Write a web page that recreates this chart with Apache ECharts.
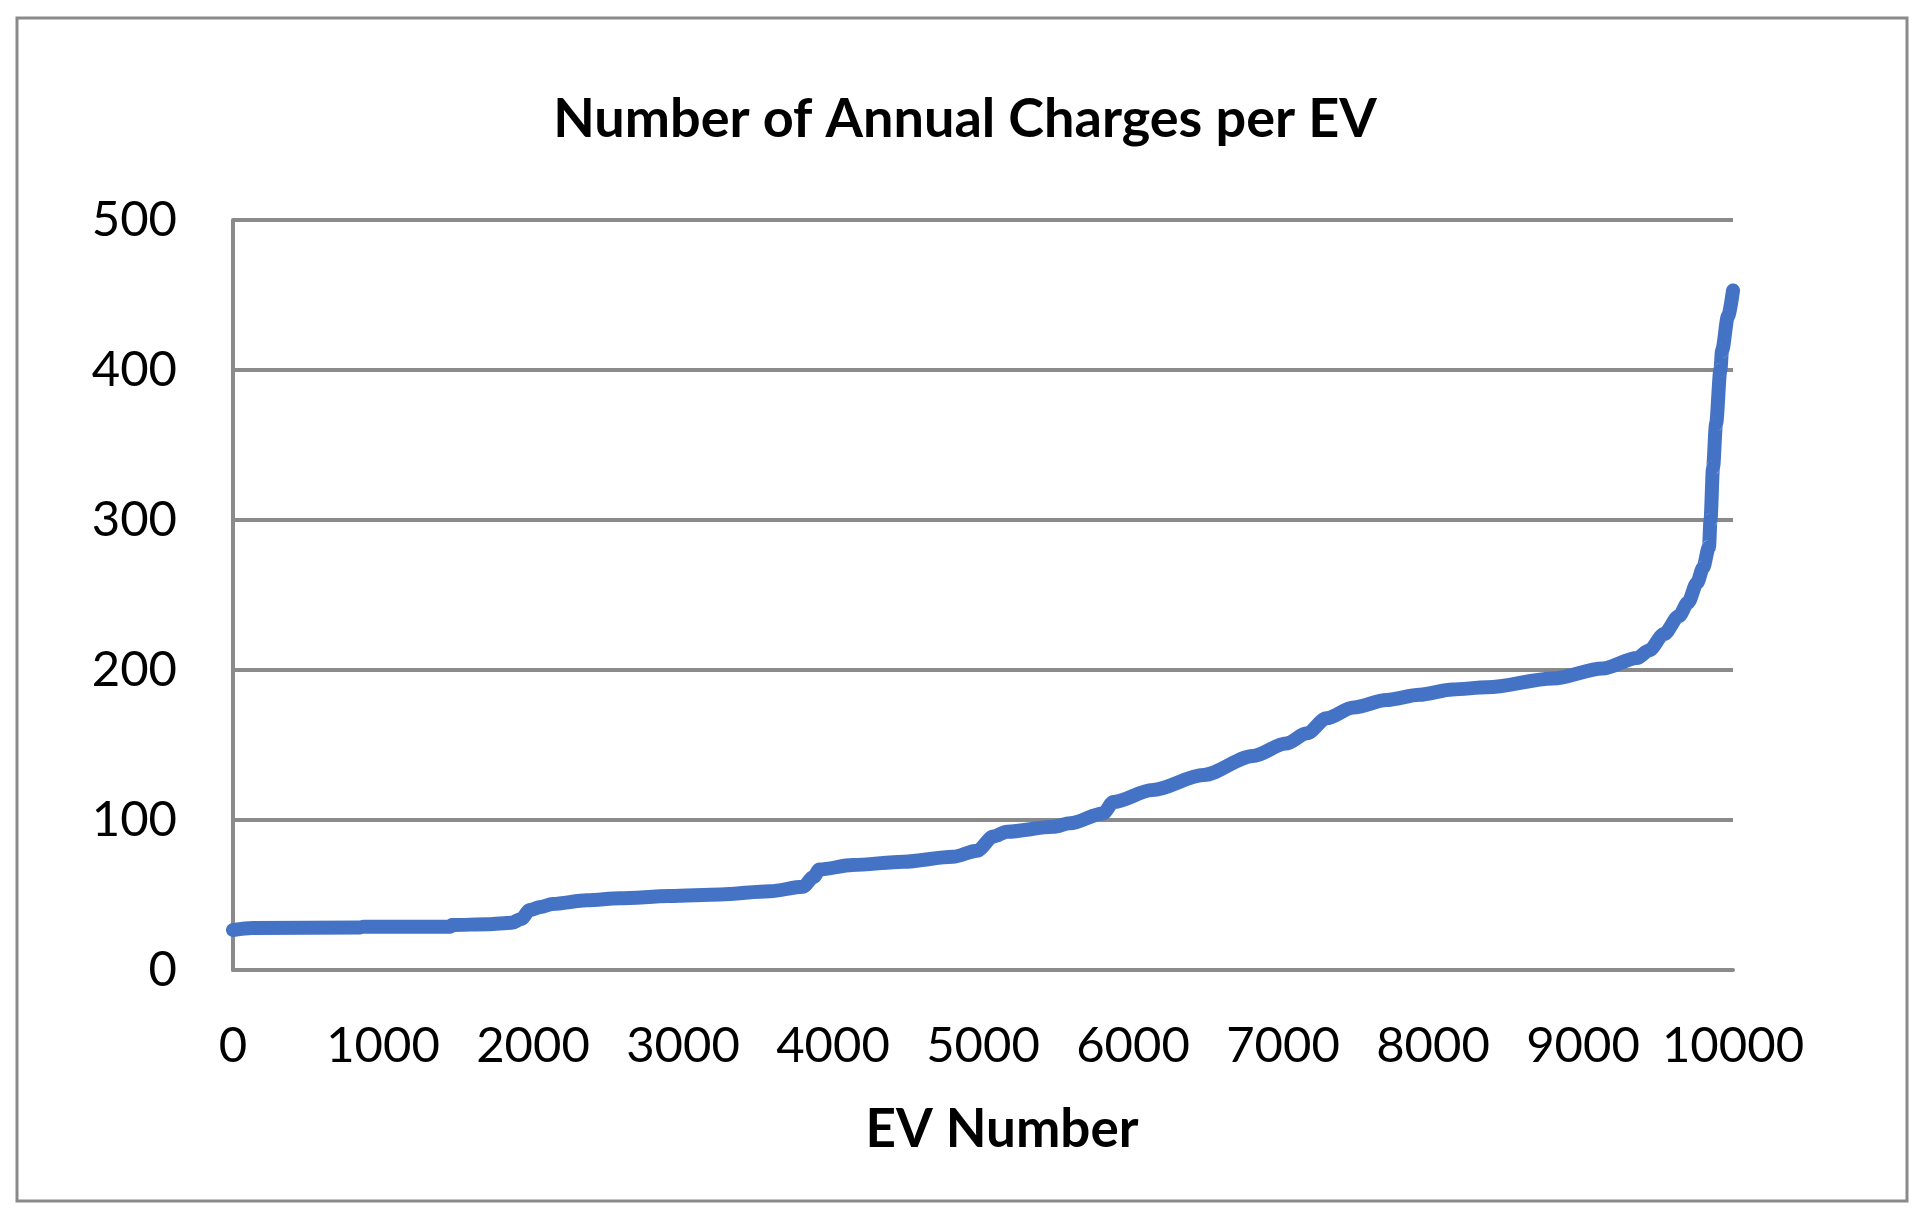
<!DOCTYPE html>
<html>
<head>
<meta charset="utf-8">
<script src="https://cdn.jsdelivr.net/npm/echarts@6/dist/echarts.min.js"></script>
<style>
html,body{margin:0;padding:0;background:#fff;}
#chart{width:1930px;height:1221px;}
</style>
</head>
<body>
<div id="chart"></div>
<script>
// Data (EV number vs annual charges, sorted)
const evNumber = [0, 130, 850, 870, 1450, 1460, 1700, 1860, 1920, 1980, 2050, 2130, 2360, 2580, 2910, 3250, 3580, 3800, 3870, 3910, 4130, 4470, 4800, 4960, 5070, 5160, 5470, 5580, 5800, 5870, 6130, 6470, 6800, 7020, 7160, 7290, 7470, 7690, 7910, 8130, 8360, 8800, 9130, 9360, 9440, 9540, 9640, 9700, 9760, 9800, 9840, 9850, 9867, 9887, 9916, 9927, 9967, 10000];
const annualCharges = [26.7, 28, 28.4, 28.9, 28.9, 30, 30.5, 31.5, 34, 40, 42, 44, 46.5, 47.8, 49.3, 50.4, 52.5, 55.5, 62, 67, 70, 72.2, 75.5, 79.5, 89, 92.2, 95.5, 97.8, 104.4, 112, 120, 130, 142.7, 151, 157.8, 167.8, 175, 180, 183.5, 187, 188.5, 194.4, 201, 208, 213, 224, 236, 245, 258, 268, 282, 300, 335, 364, 400, 413, 436, 453];
const xTicks = [0, 1000, 2000, 3000, 4000, 5000, 6000, 7000, 8000, 9000, 10000];
const yTicks = [0, 100, 200, 300, 400, 500];

const titleText = 'Number of Annual Charges per EV';
const xName = 'EV Number';

const seriesData = evNumber.map((n, i) => [n, annualCharges[i]]);

const chart = echarts.init(document.getElementById('chart'), null, {renderer: 'canvas'});
const gray = '#8a8a8a';
chart.setOption({
  animation: false,
  backgroundColor: '#ffffff',
  title: {
    text: titleText,
    left: 'center',
    top: 88,
    textStyle: {fontFamily: 'Lato', fontWeight: 'bold', fontSize: 54, color: '#000'}
  },
  graphic: [{
    type: 'rect',
    shape: {x: 17, y: 18, width: 1890, height: 1183},
    style: {fill: 'none', stroke: gray, lineWidth: 3},
    silent: true
  }],
  grid: {left: 233, right: 197, top: 220, bottom: 251, containLabel: false},
  xAxis: {
    type: 'value',
    min: xTicks[0],
    max: xTicks[xTicks.length - 1],
    interval: xTicks[1] - xTicks[0],
    name: xName,
    nameLocation: 'middle',
    nameGap: 133,
    nameTextStyle: {fontFamily: 'Lato', fontWeight: 'bold', fontSize: 53, color: '#000', padding: [0, 0, 0, 38]},
    axisLine: {show: true, lineStyle: {color: gray, width: 4}},
    axisTick: {show: false},
    splitLine: {show: false},
    axisLabel: {fontFamily: 'Lato', fontSize: 49, color: '#000', margin: 52, formatter: v => String(v)}
  },
  yAxis: {
    type: 'value',
    min: yTicks[0],
    max: yTicks[yTicks.length - 1],
    interval: yTicks[1] - yTicks[0],
    axisLine: {show: true, lineStyle: {color: gray, width: 4}},
    axisTick: {show: false},
    splitLine: {show: true, lineStyle: {color: gray, width: 4}},
    axisLabel: {fontFamily: 'Lato', fontSize: 49, color: '#000', margin: 56, formatter: v => String(v)}
  },
  series: [{
    type: 'line',
    data: seriesData,
    showSymbol: false,
    smooth: 0.3,
    smoothMonotone: 'x',
    lineStyle: {color: '#4472C4', width: 14, cap: 'round', join: 'round'},
    z: 3
  }]
});
</script>
</body>
</html>
